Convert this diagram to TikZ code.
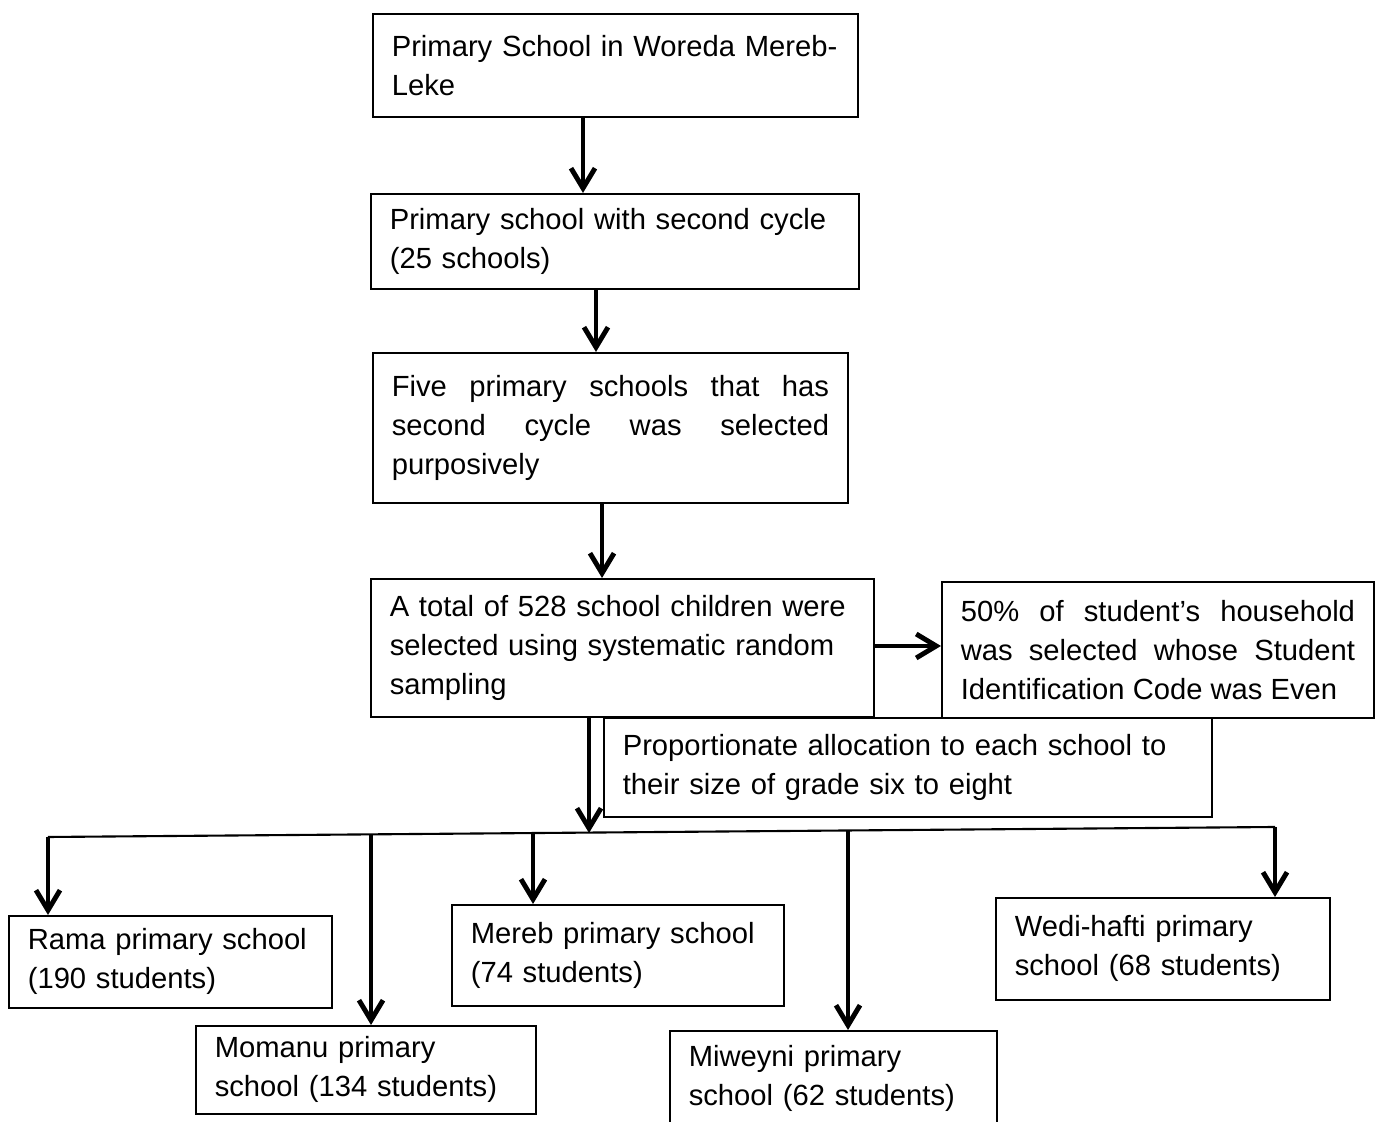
\documentclass[tikz,border=0pt]{standalone}
\usepackage{fontspec}
\setmainfont{Liberation Sans}
\usepackage{tikz}
\usetikzlibrary{arrows.meta}

\begin{document}
\begin{tikzpicture}[x=0.01cm, y=-0.01cm, >={Straight Barb[length=2mm,width=2.4mm]},
  box/.style={draw, line width=0.45pt, anchor=north west, inner xsep=0.19cm, inner ysep=0pt,
    align=left, font=\fontsize{8.3}{11.1}\selectfont},
  jbox/.style={box, align=justify},
  arrow/.style={->, line width=1.4pt}]

\useasboundingbox (0,0) rectangle (1378,1122);
\clip (0,0) rectangle (1378,1122);

% main column
\node[box, text width=4.47cm, minimum height=1.03cm] (woreda) at (372,13) {Primary School in Woreda Mereb-\\Leke};
\node[box, text width=4.50cm, minimum height=0.95cm] (cycle) at (370,193) {Primary school with second cycle\\(25 schools)};
\node[jbox, text width=4.37cm, minimum height=1.50cm] (five) at (372,352) {Five primary schools that has\linebreak second cycle was selected\linebreak purposively};
\node[box, text width=4.65cm, minimum height=1.38cm] (total) at (370,578) {A total of 528 school children were\\selected using systematic random\\sampling};
\node[jbox, text width=3.94cm, minimum height=1.36cm] (house) at (941,581) {50\% of student’s household\linebreak was selected whose Student\linebreak Identification Code was Even};
\node[box, text width=5.70cm, minimum height=0.99cm] (alloc) at (603,717) {Proportionate allocation to each school to\\their size of grade six to eight};

% schools
\node[box, text width=2.85cm, minimum height=0.92cm] (rama) at (8,915) {Rama primary school\\(190 students)};
\node[box, text width=3.02cm, minimum height=0.88cm] (momanu) at (195,1025) {Momanu primary\\school (134 students)};
\node[box, text width=2.94cm, minimum height=1.01cm] (mereb) at (451,904) {Mereb primary school\\(74 students)};
\node[box, text width=2.89cm, minimum height=0.95cm] (miweyni) at (669,1030) {Miweyni primary\\school (62 students)};
\node[box, text width=2.96cm, minimum height=1.02cm] (wedi) at (995,897) {Wedi-hafti primary\\school (68 students)};

\draw[arrow] (woreda.south -| 583,0) -- (cycle.north -| 583,0);
\draw[arrow] (cycle.south -| 596,0) -- (five.north -| 596,0);
\draw[arrow] (five.south -| 602,0) -- (total.north -| 602,0);
\draw[arrow] (total.east |- 0,646) -- (house.west |- 0,646);

% branch line
\coordinate (hub) at (589,833);
\coordinate (d-rama) at (48,837);
\coordinate (d-momanu) at (371,834.4);
\coordinate (d-mereb) at (533,833.1);
\coordinate (d-miweyni) at (848,830.5);
\coordinate (d-wedi) at (1275,827);

\draw[arrow] (total.south -| hub) -- (hub);
\draw[line width=0.6pt] (d-rama) -- (d-wedi);
\foreach \d/\n in {d-rama/rama, d-momanu/momanu, d-mereb/mereb, d-miweyni/miweyni, d-wedi/wedi}
  \draw[arrow] (\d) -- (\n.north -| \d);

\end{tikzpicture}
\end{document}
